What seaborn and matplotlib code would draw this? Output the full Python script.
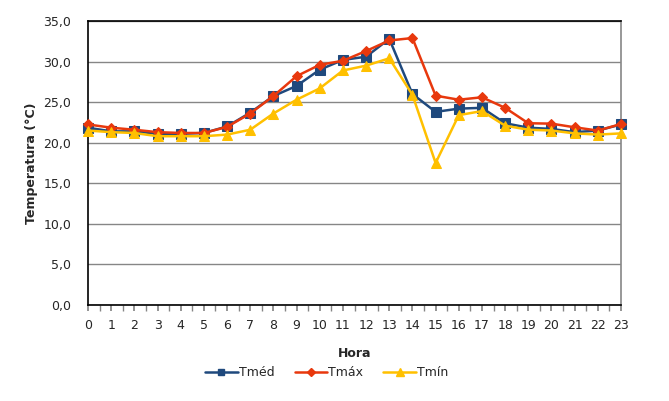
import numpy as np
import pandas as pd
import matplotlib
matplotlib.use("Agg")
import matplotlib.pyplot as plt
import seaborn as sns
from matplotlib.ticker import MultipleLocator, FuncFormatter
from matplotlib.lines import Line2D

hours = list(range(24))
tmed = [21.85, 21.4, 21.4, 21.1, 21.1, 21.2, 22.0, 23.7, 25.75, 27.0, 29.0, 30.2,
        30.6, 32.8, 26.0, 23.8, 24.2, 24.3, 22.4, 21.85, 21.7, 21.3, 21.5, 22.25]
tmax = [22.25, 21.85, 21.6, 21.3, 21.2, 21.2, 21.95, 23.6, 25.75, 28.2, 29.6, 30.1,
        31.3, 32.6, 32.9, 25.8, 25.3, 25.6, 24.3, 22.4, 22.35, 21.9, 21.5, 22.3]
tmin = [21.5, 21.3, 21.2, 20.8, 20.8, 20.8, 21.0, 21.6, 23.6, 25.3, 26.7, 28.9,
        29.5, 30.4, 25.9, 17.5, 23.4, 23.9, 22.1, 21.6, 21.5, 21.15, 21.0, 21.15]
series_names = ["Tméd", "Tmáx", "Tmín"]
colors = ["#1F497D", "#E8380D", "#FFC000"]
markers = ["s", "D", "^"]
msizes = [6.5, 5.5, 7]
leg_msizes = [5, 4, 6]

df = pd.DataFrame({"Hora": hours * 3,
                   "T": tmed + tmax + tmin,
                   "Serie": [series_names[0]] * 24 + [series_names[1]] * 24 + [series_names[2]] * 24})

sns.set_theme(style="white")
plt.rcParams['font.family'] = ['DejaVu Sans']

fig = plt.figure(figsize=(6.69, 4.01), dpi=100)
ax = fig.add_axes([88/669, 1-305/401, (621-88)/669, (305-21)/401])

for name, c, m, ms in zip(series_names, colors, markers, msizes):
    sub = df[df["Serie"] == name]
    sns.lineplot(data=sub, x="Hora", y="T", ax=ax, color=c, marker=m, markersize=ms,
                 markeredgecolor=c, linewidth=1.8, clip_on=False, zorder=3)

ax.set_xlim(0, 23)
ax.set_ylim(0, 35)
ax.yaxis.set_major_locator(MultipleLocator(5))
ax.xaxis.set_major_locator(MultipleLocator(1))
ax.xaxis.set_minor_locator(MultipleLocator(0.5))
ax.yaxis.set_major_formatter(FuncFormatter(lambda v, p: f"{v:.1f}".replace(".", ",")))
ax.grid(axis="y", color="#868686", linewidth=1)
ax.set_axisbelow(True)

for s in ["left", "bottom", "top"]:
    ax.spines[s].set_color("black")
    ax.spines[s].set_linewidth(1.2)
ax.spines["right"].set_color("#868686")
ax.spines["right"].set_linewidth(1.2)

ax.tick_params(axis="x", which="both", direction="out", length=4, color="#868686",
               bottom=True, labelsize=9, pad=6)
ax.tick_params(axis="y", which="both", length=0, labelsize=9, pad=12)

ax.set_xlabel("Hora", fontsize=9, fontweight="bold", labelpad=11)
ax.set_ylabel("Temperatura (°C)", fontsize=9, fontweight="bold", labelpad=4)

handles = [Line2D([], [], color=c, marker=m, markersize=ms, markeredgecolor=c, linewidth=1.8)
           for c, m, ms in zip(colors, markers, leg_msizes)]
ax.legend(handles, series_names, loc="upper center", bbox_to_anchor=(0.448, -0.175), ncol=3,
          frameon=False, fontsize=9, handlelength=2.6, handletextpad=0.1, columnspacing=1.6)

fig.savefig("out.png", dpi=100, facecolor="white")
